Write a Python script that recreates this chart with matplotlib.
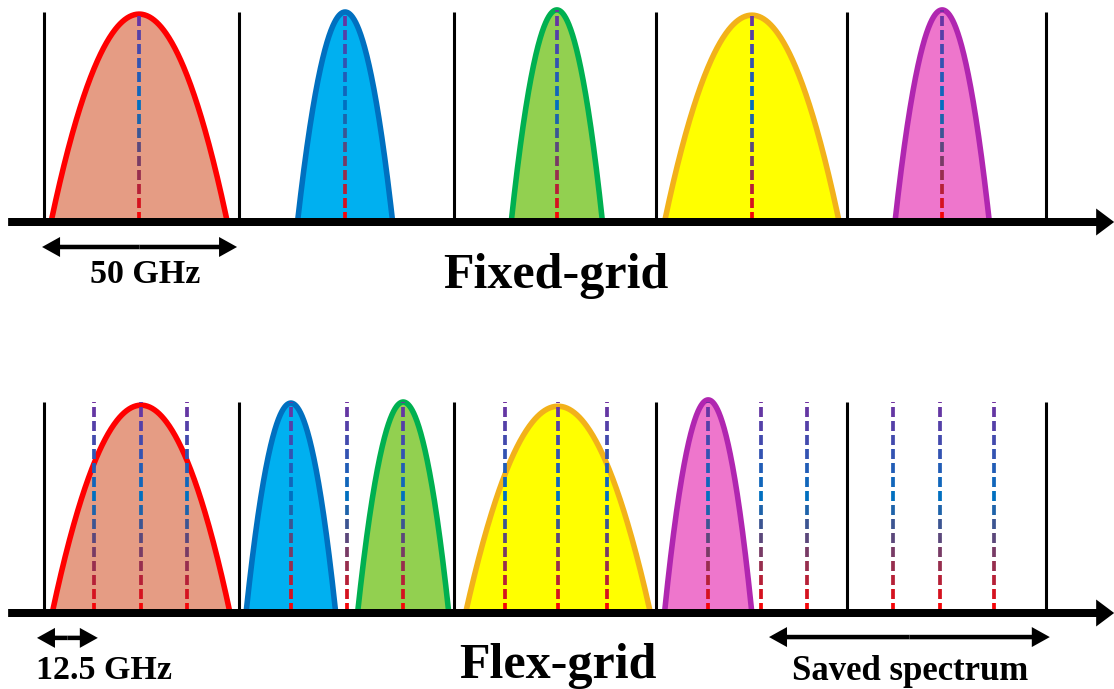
import numpy as np
import matplotlib
matplotlib.use("Agg")
import matplotlib.pyplot as plt
from matplotlib.colors import LinearSegmentedColormap
from matplotlib.collections import LineCollection

# ---------------------------------------------------------
# data (frequency in GHz, heights relative to grid height)
# ---------------------------------------------------------

grid_ghz = [0, 50, 105, 157, 206, 257]

fixed_center = [24.4, 77.2, 131.5, 181.5, 230.3]
fixed_half = [22.6, 12.2, 11.7, 22.4, 12.1]
fixed_peak = [0.99, 1.0, 1.01, 0.985, 1.01]

flex_center = [24.9, 63.3, 92.1, 131.8, 170.3]
flex_half = [22.8, 11.5, 11.7, 23.7, 11.2]
flex_peak = [0.985, 0.995, 1.0, 0.98, 1.01]

flex_slots = [12.8, 24.9, 36.7, 63.3, 77.7, 92.1, 118.2, 131.8, 144.4,
              170.3, 183.8, 195.6, 217.7, 229.7, 243.6]

fill_colors = ["#E59C84", "#00B0F0", "#92D050", "#FFFF00", "#EE76CC"]
edge_colors = ["#FF0000", "#0070C0", "#00B050", "#F2B11A", "#B026B0"]

# ---------------------------------------------------------
# layout
# ---------------------------------------------------------

FIG_W, FIG_H = 1114, 689
PX_PER_GHZ = 3.9
X0_PX = 44
XLIM = (-X0_PX / PX_PER_GHZ, (FIG_W - X0_PX) / PX_PER_GHZ)
FONT = "Liberation Serif"

slot_cmap = LinearSegmentedColormap.from_list(
    "slot", [(0.0, "#FF0000"), (0.55, "#0070C0"), (1.0, "#7030A0")]
)


def panel_axes(fig, top_px, bottom_px, base_px, unit_px):
    ax = fig.add_axes([0, 1 - bottom_px / FIG_H, 1, (bottom_px - top_px) / FIG_H])
    ax.set_xlim(*XLIM)
    ax.set_ylim(-(bottom_px - base_px) / unit_px, (base_px - top_px) / unit_px)
    ax.set_axis_off()
    return ax


def draw_spectrum(ax, c, hw, peak, fill, edge):
    u = np.linspace(-1, 1, 300)
    x = c + hw * u
    y = peak * (1 - u ** 2)
    ax.fill_between(x, 0, y, color=fill, lw=0, zorder=2)
    ax.plot(x, y, color=edge, lw=4.0, zorder=3)


def grad_dash(ax, x, top, unit_px):
    dash = 10 / unit_px
    gap = 4 / unit_px
    starts = np.arange(0, top, dash + gap)
    segs = [[(x, s), (x, min(s + dash, top))] for s in starts]
    colors = slot_cmap(np.clip(starts + dash / 2, 0, 1))
    ax.add_collection(LineCollection(segs, colors=colors, linewidths=2.7,
                                     capstyle="butt", zorder=4))


def axis_arrow(ax, unit_px):
    ax.arrow(-9.2, 0, 283.6, 0, width=8 / unit_px, head_width=27 / unit_px,
             head_length=18 / PX_PER_GHZ, length_includes_head=True,
             color="black", lw=0, zorder=5)


def span_arrow(ax, x0, x1, y, unit_px):
    mid = (x0 + x1) / 2
    for end in (x0, x1):
        ax.arrow(mid, y, end - mid, 0, width=4.5 / unit_px, head_width=20 / unit_px,
                 head_length=18 / PX_PER_GHZ, length_includes_head=True,
                 color="black", lw=0, zorder=5)


def label(ax, x, y, text, size):
    ax.text(x, y, text, ha="center", va="baseline", fontsize=size,
            fontweight="bold", family=FONT)


fig = plt.figure(figsize=(FIG_W / 100, FIG_H / 100), dpi=100)

# Fixed grid
top_unit = 210
ax1 = panel_axes(fig, 0, 320, 222, top_unit)
ax1.vlines(grid_ghz, 0, 1, color="black", lw=2.2, zorder=1)
for c, hw, pk, fc, ec in zip(fixed_center, fixed_half, fixed_peak, fill_colors, edge_colors):
    draw_spectrum(ax1, c, hw, pk, fc, ec)
    grad_dash(ax1, c, pk, top_unit)
axis_arrow(ax1, top_unit)
span_arrow(ax1, -0.5, 49.5, -0.119, top_unit)
label(ax1, 25.9, -0.29, "50 GHz", 24.5)
label(ax1, 131.3, -0.314, "Fixed-grid", 36)

# Flex grid
bot_unit = 211
ax2 = panel_axes(fig, 320, 689, 613, bot_unit)
ax2.vlines(grid_ghz, 0, 1, color="black", lw=2.2, zorder=1)
for c, hw, pk, fc, ec in zip(flex_center, flex_half, flex_peak, fill_colors, edge_colors):
    draw_spectrum(ax2, c, hw, pk, fc, ec)
for s in flex_slots:
    grad_dash(ax2, s, 1.0, bot_unit)
axis_arrow(ax2, bot_unit)
span_arrow(ax2, -1.8, 13.8, -0.118, bot_unit)
span_arrow(ax2, 185.9, 257.9, -0.114, bot_unit)
label(ax2, 15.5, -0.313, "12.5 GHz", 24.5)
label(ax2, 131.8, -0.308, "Flex-grid", 36)
label(ax2, 222, -0.318, "Saved spectrum", 25)

fig.savefig("out.png", dpi=100, facecolor="white")
